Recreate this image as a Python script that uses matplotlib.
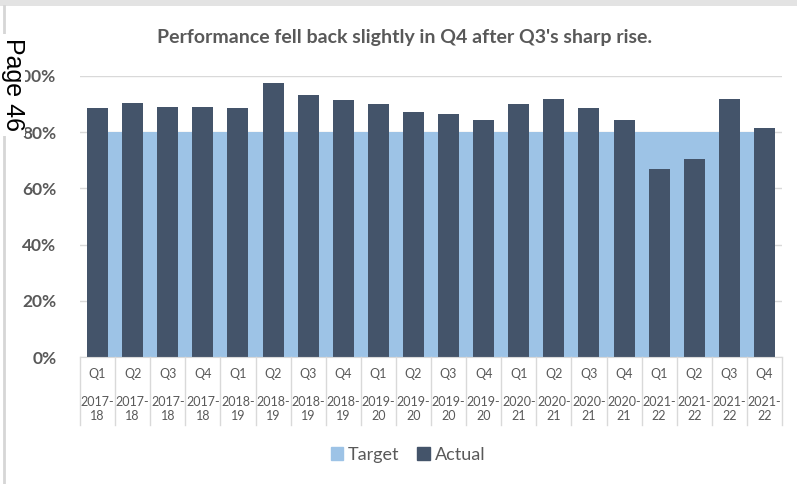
import matplotlib
matplotlib.use("Agg")
import matplotlib.pyplot as plt
import matplotlib.transforms as mtransforms
from matplotlib.patches import Patch, Rectangle
from matplotlib.lines import Line2D
import numpy as np

quarters = ["Q1", "Q2", "Q3", "Q4"] * 5
years = ["2017-\n18"] * 4 + ["2018-\n19"] * 4 + ["2019-\n20"] * 4 + ["2020-\n21"] * 4 + ["2021-\n22"] * 4
actual = [88.5, 90.3, 88.9, 88.9, 88.5, 97.4, 93.2, 91.5, 89.9, 87.3,
          86.6, 84.3, 89.9, 91.8, 88.5, 84.3, 66.9, 70.4, 91.8, 81.4]
target = [80] * 20
yticks = [0, 20, 40, 60, 80, 100]

W, H = 797, 484
fig = plt.figure(figsize=(W / 100, H / 100), dpi=100)
fig.patch.set_facecolor("white")
plt.rcParams['font.family'] = ['Lato', 'DejaVu Sans']

def fy(px):
    return 1 - px / H

def fx(px):
    return px / W

ax = fig.add_axes([fx(80), fy(357), fx(782) - fx(80), fy(76) - fy(357)])
x = np.arange(len(actual))
ax.set_xlim(-0.5, len(actual) - 0.5)
ax.set_ylim(0, 100)

ax.fill_between(x, 0, target, color="#9DC3E6", zorder=1, linewidth=0)
ax.bar(x, actual, width=0.6, color="#44546A", zorder=2)

ax.set_yticks(yticks)
ax.set_yticklabels([f"{v}%" for v in yticks], fontsize=12.5, color="#595959", fontweight="bold")
ax.tick_params(axis="y", length=0, pad=17)
ax.set_xticks([])
ax.grid(axis="y", color="#d9d9d9", linewidth=1, zorder=0)
ax.set_axisbelow(True)
for s in ["top", "right", "left"]:
    ax.spines[s].set_visible(False)
ax.spines["bottom"].set_color("#d9d9d9")

# category table below axis
trans = mtransforms.blended_transform_factory(ax.transData, fig.transFigure)
for i in range(len(actual) + 1):
    fig.add_artist(Line2D([i - 0.5, i - 0.5], [fy(357), fy(425)], transform=trans,
                          color="#d9d9d9", linewidth=1))
for i, (q, yr) in enumerate(zip(quarters, years)):
    fig.text(i, fy(374), q, transform=trans, ha="center", va="center",
             fontsize=9, color="#595959")
    fig.text(i, fy(409), yr, transform=trans, ha="center", va="center",
             fontsize=9, color="#595959", linespacing=1.2)

fig.text(fx(405), fy(38), "Performance fell back slightly in Q4 after Q3's sharp rise.",
         ha="center", va="center", fontsize=14, fontweight="bold", color="#595959")

handles = [Patch(color="#9DC3E6", label="Target"), Patch(color="#44546A", label="Actual")]
fig.legend(handles=handles, loc="center", bbox_to_anchor=(fx(408), fy(455)), ncol=2,
           frameon=False, fontsize=13, labelcolor="#595959", handlelength=0.7,
           handleheight=0.7, handletextpad=0.25, columnspacing=1.0)

# page frame
fig.add_artist(Rectangle((0, fy(6)), 1, 6 / H, transform=fig.transFigure,
                         color="#e3e3e3", linewidth=0))
fig.add_artist(Line2D([fx(3.5), fx(3.5)], [0, fy(6)], transform=fig.transFigure,
                      color="#d6d6d6", linewidth=2))
fig.add_artist(Rectangle((0, fy(136)), fx(25), (136 - 34) / H, transform=fig.transFigure,
                         color="white", linewidth=0, zorder=5))
fig.text(fx(12.5), fy(85), "Page 46", rotation=-90, ha="center", va="center",
         fontsize=18, color="black", family=["Liberation Sans", "DejaVu Sans"], zorder=6)

fig.savefig("out.png", dpi=100)
